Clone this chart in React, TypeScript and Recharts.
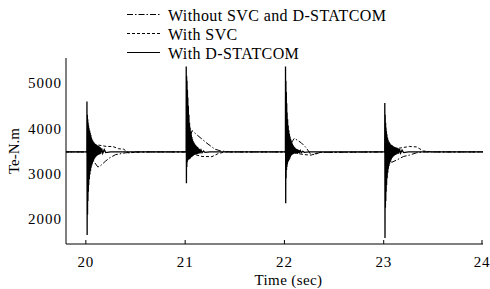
import React from 'react';
import { LineChart, Line, XAxis, YAxis } from 'recharts';

// disturbance instants and the steady torque level
const eventTimes = [20.01, 21.01, 22.01, 23.01];
const baseTorque = 3480;

// time after each disturbance for the D-STATCOM oscillation samples
const burstOffsets = [
  0.001, 0.003, 0.005, 0.007, 0.009, 0.011, 0.013, 0.015, 0.017, 0.019,
  0.022, 0.025, 0.028, 0.031, 0.034, 0.037, 0.04, 0.043, 0.046, 0.049,
  0.052, 0.055, 0.058, 0.061, 0.064, 0.067, 0.07, 0.073, 0.076, 0.079,
  0.082, 0.085, 0.088, 0.091, 0.094, 0.097, 0.1, 0.104, 0.108, 0.112,
  0.116, 0.12, 0.125, 0.13, 0.135, 0.14, 0.15, 0.16, 0.175, 0.19,
];

// With D-STATCOM: torque samples in each burst (peak / trough alternating)
const statcom20 = [
  4590, 1650, 4300, 2100, 4200, 2400, 4120, 2600, 4060, 2750,
  4000, 2880, 3950, 2980, 3900, 3060, 3850, 3130, 3800, 3180,
  3760, 3220, 3730, 3260, 3710, 3290, 3690, 3320, 3670, 3340,
  3660, 3360, 3650, 3375, 3640, 3390, 3630, 3400, 3620, 3410,
  3610, 3420, 3600, 3430, 3580, 3440, 3560, 3450, 3530, 3465,
];
const statcom21 = [
  5360, 2790, 5150, 3150, 5050, 3250, 4850, 3290, 4680, 3300,
  4500, 3310, 4300, 3320, 4120, 3330, 4020, 3340, 3930, 3360,
  3860, 3370, 3810, 3380, 3760, 3390, 3720, 3400, 3690, 3410,
  3670, 3415, 3650, 3420, 3630, 3425, 3615, 3430, 3600, 3435,
  3585, 3440, 3560, 3445, 3540, 3450, 3520, 3460, 3500, 3470,
];
const statcom22 = [
  5360, 2350, 5050, 2900, 4800, 3080, 4550, 3150, 4350, 3200,
  4200, 3250, 4060, 3280, 3960, 3300, 3880, 3330, 3820, 3360,
  3770, 3390, 3730, 3410, 3690, 3420, 3660, 3430, 3630, 3435,
  3610, 3440, 3590, 3445, 3575, 3450, 3560, 3452, 3550, 3455,
  3540, 3458, 3530, 3460, 3520, 3462, 3510, 3465, 3495, 3470,
];
const statcom23 = [
  4560, 1580, 4300, 2250, 4120, 2400, 4020, 2600, 3940, 2750,
  3870, 2900, 3800, 3020, 3750, 3110, 3710, 3170, 3690, 3220,
  3670, 3260, 3650, 3290, 3640, 3320, 3630, 3345, 3620, 3365,
  3610, 3380, 3600, 3390, 3595, 3400, 3590, 3410, 3580, 3420,
  3575, 3430, 3570, 3440, 3560, 3445, 3540, 3455, 3520, 3465,
];

// Without SVC and D-STATCOM
const withoutTimes = [
  19.8, 20.01, 20.12, 20.14, 20.2, 20.24, 20.3, 20.4, 20.5,
  21.01, 21.07, 21.1, 21.16, 21.22, 21.3, 21.36, 21.45,
  22.01, 22.1, 22.17, 22.22, 22.26, 22.3, 22.36,
  23.01, 23.08, 23.13, 23.2, 23.26, 23.33, 23.4, 24,
];
const withoutValues = [
  3480, 3480, 3150, 3160, 3280, 3350, 3420, 3460, 3480,
  3480, 3950, 3890, 3780, 3670, 3540, 3500, 3480,
  3480, 3780, 3680, 3570, 3440, 3420, 3470,
  3480, 3250, 3300, 3380, 3410, 3460, 3480, 3480,
];

// With SVC
const svcTimes = [
  19.8, 20.01, 20.1, 20.21, 20.27, 20.33, 20.38, 20.43, 20.5, 20.6,
  21.01, 21.1, 21.17, 21.27, 21.33, 21.4,
  22.01, 22.12, 22.2, 22.27, 22.35,
  23.01, 23.15, 23.26, 23.33, 23.4, 23.5, 24,
];
const svcValues = [
  3480, 3480, 3640, 3600, 3600, 3550, 3540, 3460, 3470, 3480,
  3480, 3420, 3380, 3375, 3440, 3480,
  3480, 3450, 3420, 3410, 3470,
  3480, 3560, 3600, 3590, 3500, 3480, 3480,
];

const xTicks = [20, 21, 22, 23, 24];
const yTicks = [2000, 3000, 4000, 5000];

const statcomBursts = [statcom20, statcom21, statcom22, statcom23];

const statcomData: { t: number; v: number }[] = [{ t: 19.8, v: baseTorque }];
eventTimes.forEach((ev, i) => {
  statcomData.push({ t: ev, v: baseTorque });
  burstOffsets.forEach((off, j) => {
    statcomData.push({ t: ev + off, v: statcomBursts[i][j] });
  });
  statcomData.push({ t: ev + 0.24, v: baseTorque });
});
statcomData.push({ t: 24, v: baseTorque });

const withoutData = withoutTimes.map((t, i) => ({ t, v: withoutValues[i] }));
const svcData = svcTimes.map((t, i) => ({ t, v: svcValues[i] }));

const series = [
  { name: 'Without SVC and D-STATCOM', data: withoutData, dash: '6 2 1.5 2', width: 1 },
  { name: 'With SVC', data: svcData, dash: '3 2', width: 1 },
  { name: 'With D-STATCOM', data: statcomData, dash: undefined, width: 1.3 },
];

const font = '"Liberation Serif", "Times New Roman", serif';

const XTick = (props: any) => {
  const { x, y, payload } = props;
  return (
    <g>
      <line x1={x} y1={y} x2={x} y2={y - 4} stroke="#000" />
      <text x={x} y={y + 23} textAnchor="middle" fontSize={15} fontFamily={font} style={{ letterSpacing: 0.8 }} fill="#000">
        {payload.value}
      </text>
    </g>
  );
};

export default function App() {
  return (
    <div style={{ position: 'absolute', left: 0, top: 0, width: 490, height: 289, background: '#fff' }}>
      <LineChart
        width={490}
        height={289}
        margin={{ top: 58, right: 7, bottom: 0, left: 0 }}
        style={{ fontFamily: font }}
      >
        <XAxis
          dataKey="t"
          type="number"
          domain={[19.8, 24]}
          ticks={xTicks}
          height={45}
          tickSize={0}
          tickMargin={0}
          tickLine={false}
          axisLine={{ stroke: '#000' }}
          tick={<XTick />}
          allowDataOverflow
          label={{
            value: 'Time (sec)',
            position: 'insideBottom',
            offset: 4,
            dx: 14,
            style: { fontSize: 15, fill: '#000', fontFamily: font, letterSpacing: 0.4 },
          }}
        />
        <YAxis
          dataKey="v"
          type="number"
          domain={[1450, 5550]}
          ticks={yTicks}
          width={66}
          tickSize={0}
          tickMargin={4}
          tickLine={false}
          axisLine={{ stroke: '#000' }}
          allowDataOverflow
          tick={{ fontSize: 15, fill: '#000', fontFamily: font, style: { letterSpacing: 1 } }}
          label={{
            value: 'Te-N.m',
            angle: -90,
            position: 'insideLeft',
            offset: 14,
            style: { textAnchor: 'middle', fontSize: 15, fill: '#000', fontFamily: font },
          }}
        />
        {series.map((s) => (
          <Line
            key={s.name}
            data={s.data}
            dataKey="v"
            name={s.name}
            type="linear"
            stroke="#000"
            strokeWidth={s.width}
            strokeDasharray={s.dash}
            dot={false}
            activeDot={false}
            isAnimationActive={false}
          />
        ))}
      </LineChart>
      <svg
        width={490}
        height={289}
        style={{ position: 'absolute', left: 0, top: 0, pointerEvents: 'none' }}
      >
        {series.map((s, i) => (
          <g key={s.name}>
            <line x1={127} x2={160} y1={14.5 + i * 19} y2={14.5 + i * 19} stroke="#000" strokeWidth={1.2} strokeDasharray={s.dash} />
            <text x={168} y={20.5 + i * 19} fontSize={16} fontFamily={font} style={{ letterSpacing: 0.4 }} fill="#000">
              {s.name}
            </text>
          </g>
        ))}
      </svg>
    </div>
  );
}
